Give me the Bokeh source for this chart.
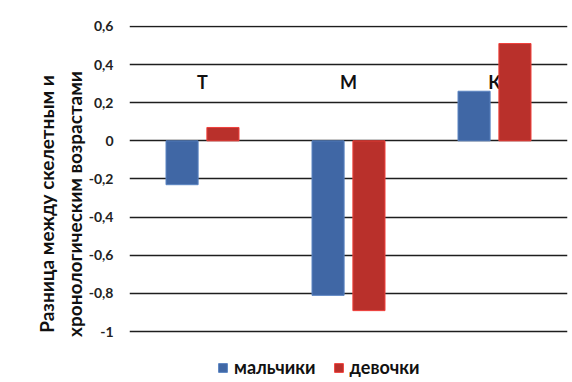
from bokeh.plotting import figure
from bokeh.models import FactorRange, Range1d, FixedTicker, Legend, LegendItem, ColumnDataSource
from bokeh.transform import dodge
from bokeh.core.properties import value
from bokeh.embed import file_html
from bokeh.resources import INLINE

categories = ["Т", "М", "К"]
boys = [-0.23, -0.81, 0.26]
girls = [0.07, -0.89, 0.51]
tick_values = [-1, -0.8, -0.6, -0.4, -0.2, 0, 0.2, 0.4, 0.6]
tick_labels = ["-1", "-0,8", "-0,6", "-0,4", "-0,2", "0", "0,2", "0,4", "0,6"]
series_names = ["мальчики", "девочки"]
y_title = "Разница между скелетным и\nхронологическим возрастами"

FONT = "Lato"

src = ColumnDataSource(dict(cat=categories, boys=boys, girls=girls,
                            ly=[0.31] * len(categories)))

# frame extends below the axis minimum to host the legend (no visible axis line)
p = figure(width=572, height=382, output_backend="svg", toolbar_location=None,
           x_range=FactorRange(*categories, range_padding=0),
           y_range=Range1d(-1.2667, 0.6045),
           min_border_left=129, min_border_right=5, min_border_top=25,
           min_border_bottom=0)
p.outline_line_color = None
p.background_fill_color = "white"
p.border_fill_color = "white"
p.grid.visible = False

p.hspan(y=tick_values, line_color="#1e1e1e", line_width=1.5)

# category labels drawn before the bars, so bars overlap them as in the original
p.text(x="cat", y="ly", text="cat", source=src, text_align="center",
       text_baseline="middle", text_font=value(FONT), text_font_style="bold",
       text_font_size="18px", text_color="#111111")

rb = p.vbar(x=dodge("cat", -0.14, range=p.x_range), top="boys", width=0.22,
            source=src, fill_color="#4067A5", line_color="#5A84C2", line_width=1)
rg = p.vbar(x=dodge("cat", 0.14, range=p.x_range), top="girls", width=0.22,
            source=src, fill_color="#B9302B", line_color="#F0403C", line_width=1)

p.xaxis.visible = False

ya = p.yaxis[0]
ya.ticker = FixedTicker(ticks=tick_values)
ya.major_label_overrides = {v: l for v, l in zip(tick_values, tick_labels)}
ya.axis_line_color = None
ya.major_tick_line_color = None
ya.minor_tick_line_color = None
ya.major_label_standoff = 10
ya.major_label_text_font = FONT
ya.major_label_text_font_style = "bold"
ya.major_label_text_font_size = "14px"
ya.major_label_text_color = "#222222"
ya.axis_label = y_title
ya.axis_label_text_font = FONT
ya.axis_label_text_font_style = "bold"
ya.axis_label_text_font_size = "19px"
ya.axis_label_text_color = "#111111"
ya.axis_label_standoff = 0

legend = Legend(items=[LegendItem(label=series_names[0], renderers=[rb]),
                       LegendItem(label=series_names[1], renderers=[rg])],
                orientation="horizontal", location=(88, 4),
                label_text_font=FONT, label_text_font_style="bold",
                label_text_font_size="18px", label_text_color="#111111",
                label_standoff=6, glyph_width=11, glyph_height=11, spacing=17,
                border_line_color=None, background_fill_alpha=0,
                margin=0, padding=4)
p.add_layout(legend)

open("out.html", "w").write(file_html(p, INLINE))
